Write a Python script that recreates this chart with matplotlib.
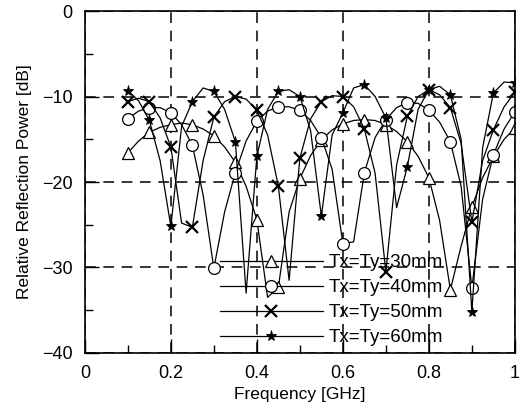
import matplotlib
matplotlib.use("Agg")
import matplotlib.pyplot as plt
from matplotlib.ticker import MultipleLocator

plt.rcParams['font.family'] = ['Liberation Sans', 'DejaVu Sans']

# frequency grid (GHz), markers sit on every 0.05 GHz
freq = [0.1, 0.125, 0.15, 0.175, 0.2, 0.225, 0.25, 0.275, 0.3, 0.325,
        0.35, 0.375, 0.4, 0.425, 0.45, 0.475, 0.5, 0.525, 0.55, 0.575,
        0.6, 0.625, 0.65, 0.675, 0.7, 0.725, 0.75, 0.775, 0.8, 0.825,
        0.85, 0.875, 0.9, 0.925, 0.95, 0.975, 1.0]

t30 = [-16.6, -15.2, -14.2, -13.6, -13.3, -13.1, -13.3, -13.8, -14.6, -15.9,
       -17.7, -20.5, -24.4, -33.5, -32.3, -23.5, -19.6, -16.9, -15.1, -13.9,
       -13.2, -12.8, -12.7, -12.8, -13.3, -14.1, -15.3, -17.0, -19.5, -24.5,
       -32.6, -27.5, -22.9, -19.5, -17.0, -15.0, -13.7]

t40 = [-12.6, -11.7, -11.3, -11.3, -11.9, -13.3, -15.7, -21.5, -30.1, -23.5,
       -18.9, -15.2, -12.9, -11.7, -11.2, -11.2, -11.6, -12.8, -14.8, -18.5,
       -27.2, -27.0, -18.9, -14.8, -12.7, -11.3, -10.7, -10.8, -11.6, -13.0,
       -15.3, -20.5, -32.4, -22.0, -16.8, -13.8, -11.8]

t50 = [-10.6, -10.2, -10.6, -12.5, -15.9, -24.8, -25.3, -17.5, -12.4, -10.6,
       -10.0, -10.3, -11.6, -14.5, -20.5, -31.5, -17.2, -12.6, -10.6, -9.9,
       -10.0, -11.2, -13.8, -19.0, -30.5, -18.0, -12.3, -10.0, -9.2, -9.8,
       -11.3, -15.5, -24.7, -17.5, -13.9, -11.2, -9.5]

t60 = [-9.3, -10.5, -12.8, -17.5, -25.2, -13.5, -10.6, -9.0, -9.4, -11.5,
       -15.3, -33.0, -17.0, -11.5, -9.4, -9.2, -10.0, -14.0, -24.0, -14.5,
       -11.9, -9.0, -8.6, -10.0, -12.5, -23.0, -18.2, -11.5, -9.2, -8.8,
       -9.8, -15.0, -35.2, -16.0, -9.6, -8.3, -8.4]

labels = ["Tx=Ty=30mm", "Tx=Ty=40mm", "Tx=Ty=50mm", "Tx=Ty=60mm"]

fig = plt.figure(figsize=(5.27, 4.09), dpi=100)
ax = fig.add_axes([0.161, 0.137, 0.816, 0.836])

marks = list(range(0, len(freq), 2))
ax.plot(freq, t30, color='black', lw=0.9, marker='^', ms=8, mfc='white',
        mec='black', mew=0.9, markevery=marks, label=labels[0])
ax.plot(freq, t40, color='black', lw=0.9, marker='o', ms=8.5, mfc='white',
        mec='black', mew=0.9, markevery=marks, label=labels[1])
ax.plot(freq, t50, color='black', lw=0.9, marker='x', ms=9, mec='black',
        mew=1.6, markevery=marks, label=labels[2])
ax.plot(freq, t60, color='black', lw=0.9, marker='*', ms=8, mfc='black',
        mec='black', mew=0.6, markevery=marks, label=labels[3])

ax.set_xlim(0, 1)
ax.set_ylim(-40, 0)
ax.set_xticks([0, 0.2, 0.4, 0.6, 0.8, 1.0])
ax.set_xticklabels(['0', '0.2', '0.4', '0.6', '0.8', '1'])
ax.xaxis.set_minor_locator(MultipleLocator(0.1))
ax.yaxis.set_major_locator(MultipleLocator(10))
ax.yaxis.set_minor_locator(MultipleLocator(5))
ax.tick_params(which='major', direction='in', length=10, width=1,
               labelsize=13, pad=9, top=False, right=False)
ax.tick_params(which='minor', direction='in', length=6, width=1,
               top=False, right=False)
ax.grid(True, which='major', color='black', linestyle=(0, (7, 5)), lw=1.1)
for s in ax.spines.values():
    s.set_linewidth(1.2)

ax.set_xlabel("Frequency [GHz]", fontsize=12.5, labelpad=3)
ax.set_ylabel("Relative Reflection Power [dB]", fontsize=12.5, labelpad=7)

ax.legend(loc='lower left', bbox_to_anchor=(0.314, 0.02), frameon=False,
          fontsize=13.5, handlelength=5.5, handletextpad=0.3,
          labelspacing=0.42, borderpad=0, borderaxespad=0)

fig.savefig("out.png", dpi=100)
